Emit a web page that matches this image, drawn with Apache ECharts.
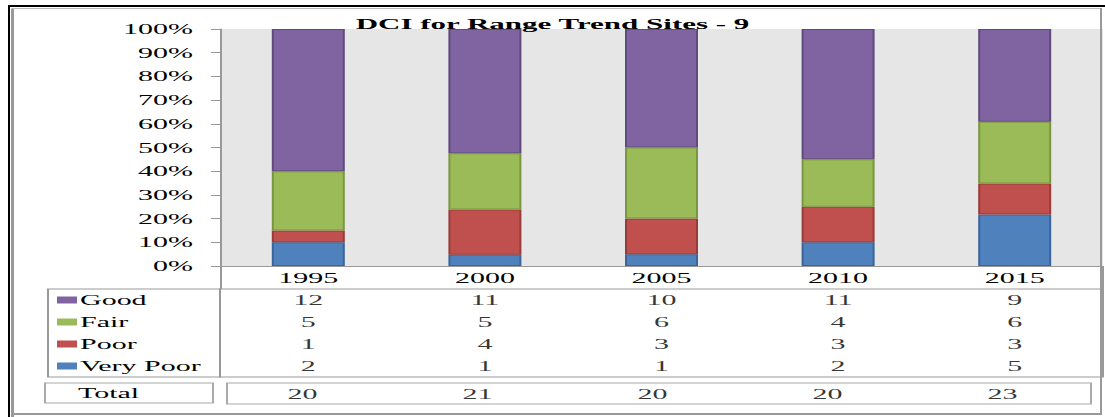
<!DOCTYPE html>
<html lang="en">
<head>
<meta charset="UTF-8">
<script src="https://cdn.jsdelivr.net/npm/echarts@6/dist/echarts.min.js"></script>
<title>DCI for Range Trend Sites - 9</title>
<style>
  *{margin:0;padding:0}
  html,body{width:100%;height:100%;background:#fff;overflow:hidden}
  /* the source picture is stretched sideways, so draw at half width and stretch */
  #main{position:absolute;left:0;top:0;width:552.5px;height:417px;transform:scaleX(2);transform-origin:0 0}
  .ln{position:absolute;pointer-events:none}
</style>
</head>
<body>
<div id="main"></div>
<!-- frame round the picture -->
<div class="ln" style="left:8px;top:5px;width:1097px;height:2px;background:#000"></div>
<div class="ln" style="left:8px;top:5px;width:2px;height:412px;background:#000"></div>
<div class="ln" style="left:11px;top:8px;width:3px;height:409px;background:#999"></div>
<div class="ln" style="left:11px;top:8px;width:1091px;height:1px;background:#bbb"></div>
<div class="ln" style="left:1100px;top:8px;width:2px;height:406px;background:#999"></div>
<div class="ln" style="left:11px;top:413px;width:1091px;height:2px;background:#999"></div>
<script type="text/javascript">
var years = ['1995', '2000', '2005', '2010', '2015'];
var conditions = ['Good', 'Fair', 'Poor', 'Very Poor'];
var good = [12, 11, 10, 11, 9];
var fair = [5, 5, 6, 4, 6];
var poor = [1, 4, 3, 3, 3];
var veryPoor = [2, 1, 1, 2, 5];
var totals = [20, 21, 20, 20, 23];

var colors = {'Good': '#8064A2', 'Fair': '#9BBB59', 'Poor': '#C0504D', 'Very Poor': '#4F81BD'};
var borders = {'Good': '#5F4A7C', 'Fair': '#7A9640', 'Poor': '#983C3A', 'Very Poor': '#3A649A'};
var counts = {'Good': good, 'Fair': fair, 'Poor': poor, 'Very Poor': veryPoor};

var font = "'Liberation Serif', 'Times New Roman', serif";

var myChart = echarts.init(document.getElementById('main'), null, {renderer: 'svg', width: 552.5, height: 417});

// bars, bottom to top
var barSeries = ['Very Poor', 'Poor', 'Fair', 'Good'].map(function (c) {
  return {
    name: c,
    type: 'bar',
    stack: 'all',
    barWidth: 36.5,
    xAxisIndex: 0,
    yAxisIndex: 0,
    itemStyle: {color: colors[c], borderColor: borders[c], borderWidth: 1},
    data: counts[c].map(function (v, i) { return v / totals[i] * 100; })
  };
});

// data table cells
var cells = [];
conditions.forEach(function (c) {
  counts[c].forEach(function (v, i) { cells.push([i, c, v]); });
});
var totalCells = totals.map(function (v, i) { return [i, 'Total', v]; });

var rich = {};
conditions.forEach(function (c, k) {
  rich['s' + k] = {width: 10, height: 7, backgroundColor: colors[c]};
});
rich.t = {fontFamily: font, fontSize: 15, color: '#000', padding: [0, 0, 0, 1.5]};

var hidden = {show: false};
var lbl = {fontFamily: font, fontSize: 15, color: '#000'};

var option = {
  animation: false,
  title: {
    text: 'DCI for Range Trend Sites - 9',
    left: 'center',
    top: 11,
    textStyle: {fontFamily: font, fontSize: 15.5, fontWeight: 'bold', color: '#000'}
  },
  grid: [
    {left: 110, right: 1, top: 29, height: 237, show: true, backgroundColor: '#E6E6E6', borderWidth: 0},
    {left: 24, width: 86, top: 289, height: 88, show: true, borderColor: '#999', borderWidth: 1},
    {left: 110, right: 1, top: 289, height: 88, show: true, borderColor: '#999', borderWidth: 1},
    {left: 22.5, width: 84, top: 383, height: 20, show: true, borderColor: '#aaa', borderWidth: 1},
    {left: 113.5, width: 432, top: 383, height: 21, show: true, borderColor: '#aaa', borderWidth: 1},
    {left: 107.5, width: 437.5, top: 383, height: 21, show: false}
  ],
  xAxis: [
    {
      type: 'category', gridIndex: 0, data: years,
      axisLine: {lineStyle: {color: '#999'}},
      axisTick: {show: true, length: 23, interval: function (i) { return i === 0; }, lineStyle: {color: '#999'}},
      axisLabel: {fontFamily: font, fontSize: 15, color: '#000', margin: 4}
    },
    {type: 'category', gridIndex: 1, data: years, show: false},
    {type: 'category', gridIndex: 2, data: years, show: false},
    {type: 'category', gridIndex: 3, data: ['Total'], show: false},
    {type: 'category', gridIndex: 4, data: years, show: false},
    {type: 'category', gridIndex: 5, data: years, show: false}
  ],
  yAxis: [
    {
      type: 'value', gridIndex: 0, min: 0, max: 100, interval: 10,
      axisLine: {show: true, lineStyle: {color: '#999'}},
      axisTick: {show: true, length: 4.5, lineStyle: {color: '#999'}},
      splitLine: hidden,
      axisLabel: {fontFamily: font, fontSize: 15, color: '#000', margin: 13.5, formatter: '{value}%'}
    },
    {
      type: 'category', gridIndex: 1, data: conditions, inverse: true,
      axisLine: hidden, axisTick: hidden,
      axisLabel: {
        inside: true, margin: 4.5, align: 'left', rich: rich,
        formatter: function (v) { return '{s' + conditions.indexOf(v) + '|}{t|' + v + '}'; }
      }
    },
    {type: 'category', gridIndex: 2, data: conditions, inverse: true, show: false},
    {
      type: 'category', gridIndex: 3, data: ['Total'],
      axisLine: hidden, axisTick: hidden,
      axisLabel: {inside: true, margin: 16.5, align: 'left', fontFamily: font, fontSize: 15, color: '#000'}
    },
    {type: 'category', gridIndex: 4, data: ['Total'], show: false},
    {type: 'category', gridIndex: 5, data: ['Total'], show: false}
  ],
  series: barSeries.concat([
    {
      type: 'scatter', xAxisIndex: 2, yAxisIndex: 2, symbolSize: 1,
      itemStyle: {color: 'transparent'},
      label: Object.assign({show: true, position: 'inside', formatter: function (p) { return p.value[2]; }}, lbl),
      data: cells
    },
    {
      type: 'scatter', xAxisIndex: 5, yAxisIndex: 5, symbolSize: 1,
      itemStyle: {color: 'transparent'},
      label: Object.assign({show: true, position: 'inside', formatter: function (p) { return p.value[2]; }}, lbl),
      data: totalCells
    }
  ])
};

myChart.setOption(option);
</script>
</body>
</html>
